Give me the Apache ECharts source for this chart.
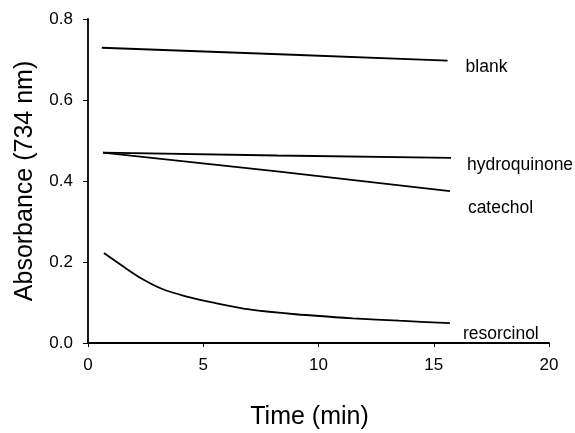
<!DOCTYPE html>
<html><head><meta charset="utf-8">
<script src="https://cdn.jsdelivr.net/npm/echarts@6/dist/echarts.min.js"></script>
<style>html,body{margin:0;padding:0;background:#fff}#c{width:575px;height:433px}</style>
</head><body><div id="c"></div>
<script>
const xTicks = [0, 5, 10, 15, 20];
const yTicks = [0.0, 0.2, 0.4, 0.6, 0.8];
const blankT = [0.6, 8.3, 15.6];
const blankV = [0.729, 0.713, 0.697];
const hydroT = [0.65, 8.2, 15.75];
const hydroV = [0.470, 0.463, 0.457];
const catT = [0.65, 8.2, 15.7];
const catV = [0.470, 0.424, 0.375];
const resT = [0.69, 1.5, 2.3, 3.2, 4.2, 5.5, 7.0, 9.0, 11.5, 13.5, 15.7];
const resV = [0.222, 0.190, 0.160, 0.134, 0.116, 0.099, 0.083, 0.071, 0.061, 0.055, 0.049];
const names = ['blank', 'hydroquinone', 'catechol', 'resorcinol'];

const font = '"Liberation Sans", Arial, sans-serif';
function mk(name, t, v, dx, dy, smooth) {
  return {
    name: name, type: 'line', data: t.map((x, i) => [x, v[i]]),
    showSymbol: false, smooth: smooth ? 0.3 : false,
    lineStyle: { color: '#000', width: 1.8 },
    itemStyle: { color: '#000' },
    endLabel: { show: true, formatter: name, distance: 0, offset: [dx, dy],
      color: '#000', fontFamily: font, fontSize: 17.5 },
    animation: false
  };
}
const chart = echarts.init(document.getElementById('c'));
chart.setOption({
  animation: false,
  grid: { left: 88, right: 26, top: 19, bottom: 90, containLabel: false, outerBoundsMode: 'none' },
  xAxis: {
    type: 'value', min: 0, max: 20, interval: 5,
    name: 'Time (min)', nameLocation: 'middle', nameGap: 62,
    nameTextStyle: { fontFamily: font, fontSize: 25, color: '#000', padding: [0, 18, 0, 0] },
    axisLine: { lineStyle: { color: '#000', width: 1.8 } },
    axisTick: { show: true, length: 4, lineStyle: { color: '#000' } },
    axisLabel: { fontFamily: font, fontSize: 17, color: '#000', margin: 14,
      formatter: v => xTicks.includes(v) ? String(v) : '' },
    splitLine: { show: false }
  },
  yAxis: {
    type: 'value', min: 0, max: 0.8, interval: 0.2,
    name: 'Absorbance (734 nm)', nameLocation: 'middle', nameGap: 50,
    nameTextStyle: { fontFamily: font, fontSize: 25, color: '#000' },
    axisLine: { show: true, lineStyle: { color: '#000', width: 1.8 } },
    axisTick: { show: true, length: 5, lineStyle: { color: '#000' } },
    axisLabel: { fontFamily: font, fontSize: 17, color: '#000', margin: 15,
      formatter: v => { const t = yTicks.find(y => Math.abs(y - v) < 1e-6); return t === undefined ? '' : t.toFixed(1); } },
    splitLine: { show: false }
  },
  series: [
    mk(names[0], blankT, blankV, 18, 6, false),
    mk(names[1], hydroT, hydroV, 16, 7, false),
    mk(names[2], catT, catV, 18, 17, false),
    mk(names[3], resT, resV, 13, 11, true)
  ]
});
</script></body></html>
